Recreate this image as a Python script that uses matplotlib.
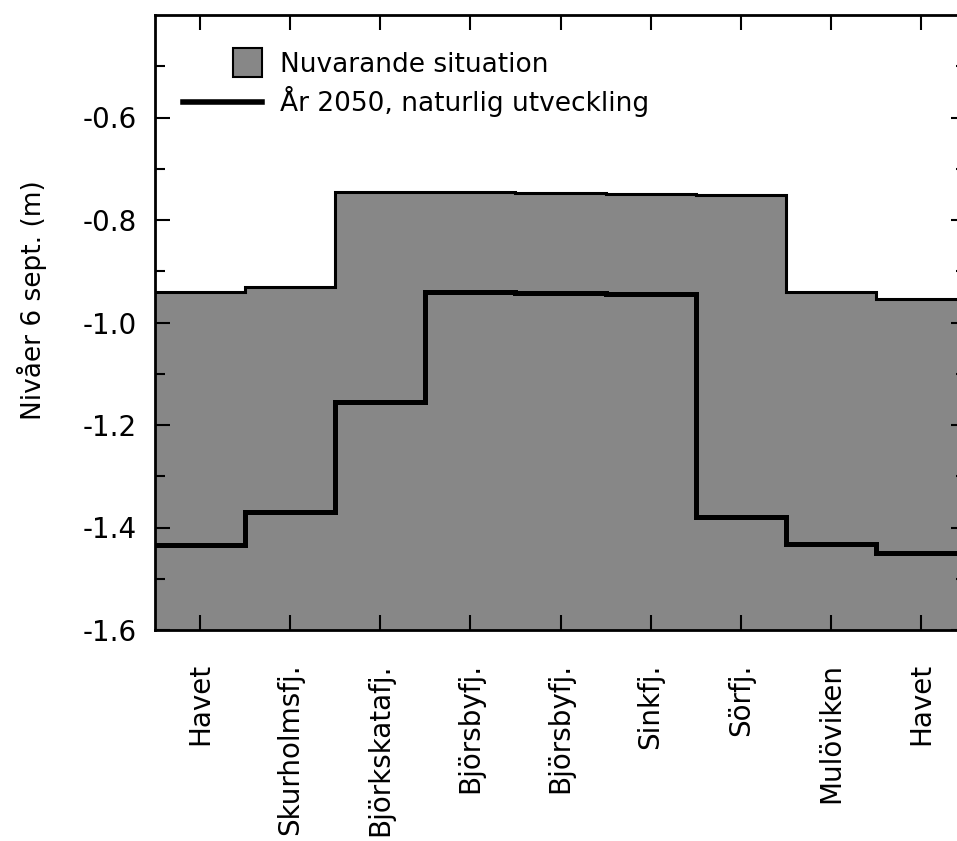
import matplotlib
matplotlib.use("Agg")
import matplotlib.pyplot as plt
from matplotlib.patches import Patch, Rectangle
from matplotlib.lines import Line2D
from matplotlib.legend_handler import HandlerPatch
import numpy as np

plt.rcParams['font.family'] = ['DejaVu Sans']
plt.rcParams['axes.unicode_minus'] = False

# basins along the section, from sea to sea
places = ['Havet', 'Skurholmsfj.', 'Björkskatafj.', 'Björsbyfj.', 'Björsbyfj.',
          'Sinkfj.', 'Sörfj.', 'Mulöviken', 'Havet']
# water level 6 sept (m)
level_now = [-0.94, -0.93, -0.745, -0.746, -0.748, -0.750, -0.752, -0.94, -0.955]
level_2050 = [-1.435, -1.37, -1.155, -0.94, -0.942, -0.945, -1.38, -1.432, -1.45]
yticks = [-1.6, -1.4, -1.2, -1.0, -0.8, -0.6]
ytick_labels = ['-1.6', '-1.4', '-1.2', '-1.0', '-0.8', '-0.6']
yminor = [-1.5, -1.3, -1.1, -0.9, -0.7, -0.5]
bottom = -1.6

fig = plt.figure(figsize=(9.57, 8.41), dpi=100)
# right edge of the axes runs a little past the picture, like the scan
ax = fig.add_axes([155/957, 211/841, 811/957, 615/841])

x = np.arange(len(places))
edges = np.arange(len(places) + 1) - 0.5

#current situation: grey area with black outline
ax.stairs(level_now, edges, baseline=bottom, fill=True, facecolor='#878787', linewidth=0)
ax.stairs(level_now, edges, baseline=None, color='black', linewidth=2.2)
#year 2050
ax.stairs(level_2050, edges, baseline=None, color='black', linewidth=3.6)

ax.set_xlim(-0.5, len(places) - 0.5)
ax.set_ylim(-1.6, -0.4)
ax.set_xticks(x)
ax.set_xticklabels(places, rotation=90, va='top', ha='center', fontsize=20)
ax.set_yticks(yticks)
ax.set_yticklabels(ytick_labels, fontsize=20)
ax.set_yticks(yminor, minor=True)
ax.tick_params(which='both', direction='in', top=True, right=True, width=1.5)
ax.tick_params(which='major', length=11)
ax.tick_params(which='minor', length=7)
ax.tick_params(axis='x', pad=24)
ax.tick_params(axis='y', pad=13)
for s in ax.spines.values():
    s.set_linewidth(2)

ax.set_ylabel('Nivåer 6 sept. (m)', fontsize=19, va='center')
ax.yaxis.set_label_coords(-0.152, 0.537)

#legend: small square for the area, long bar for the line
def square_patch(legend, orig_handle, xdescent, ydescent, width, height, fontsize):
    side = 1.1 * fontsize
    return Rectangle((width - side - xdescent, height / 2 - side / 2 - ydescent), side, side)

handles = [Patch(facecolor='#878787', edgecolor='black', linewidth=1.5),
           Line2D([], [], color='black', linewidth=4)]
labels = ['Nuvarande situation', 'År 2050, naturlig utveckling']
ax.legend(handles, labels, loc='upper left', bbox_to_anchor=(0.0345, 0.94),
          frameon=False, fontsize=19, borderpad=0, borderaxespad=0,
          handlelength=3.0, handletextpad=0.68, labelspacing=0.3,
          handler_map={Patch: HandlerPatch(patch_func=square_patch)})

fig.savefig('out.png', dpi=100)
